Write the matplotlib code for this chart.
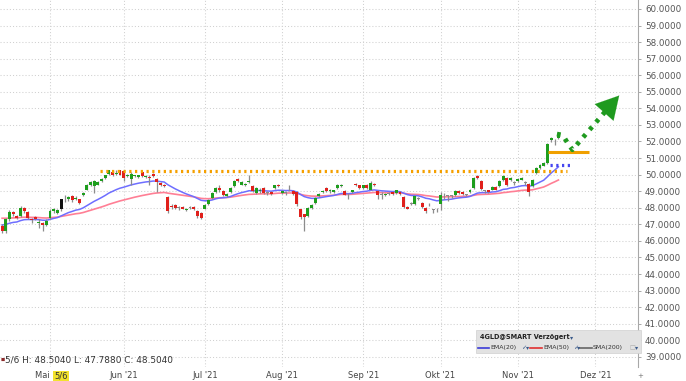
import matplotlib
matplotlib.use('Agg')
import matplotlib.pyplot as plt
import numpy as np
import pandas as pd
from matplotlib.patches import Rectangle
from matplotlib.lines import Line2D

# ---------------- data ----------------
opens = [46.9, 46.6, 47.3, 47.75, 47.5, 47.5, 48.0, 47.75, 47.35, 47.45,
         47.1, 47.1, 46.95, 47.4, 47.8, 47.7, 47.95, 48.5, 48.5, 48.7,
         48.55, 48.5, 48.75, 49.1, 49.35, 49.3, 49.4, 49.6, 49.8, 50.05,
         50.15, 50.05, 50.25, 50.2, 49.9, 49.75, 49.9, 49.85, 50.15, 49.85,
         49.85, 50.05, 49.75, 49.5, 49.4, 48.65, 48.1, 48.15, 48.0, 48.05,
         47.85, 48.0, 48.05, 47.8, 47.7, 47.95, 48.2, 48.6, 48.95, 49.2,
         49.0, 48.7, 48.95, 49.3, 49.75, 49.4, 49.4, 49.55, 49.3, 48.9,
         49.0, 49.2, 48.9, 48.95, 49.2, 49.4, 48.9, 48.9, 49.05, 49.0,
         48.95, 47.9, 47.6, 47.5, 48.0, 48.3, 48.7, 48.95, 49.2, 49.0,
         48.95, 49.2, 49.3, 49.0, 48.75, 48.95, 49.45, 49.35, 49.2, 49.4,
         49.1, 49.45, 49.0, 48.8, 48.75, 48.85, 48.95, 48.9, 48.95, 48.65,
         48.05, 48.25, 48.2, 48.55, 48.3, 48.0, 48.2, 47.85, 47.95, 48.2,
         48.75, 48.7, 48.7, 48.75, 49.0, 48.95, 48.8, 48.95, 49.2, 49.9,
         49.6, 49.0, 49.05, 49.1, 49.25, 49.3, 49.65, 49.8, 49.65, 49.5,
         49.6, 49.7, 49.5, 49.45, 49.3, 50.1, 50.4, 50.55, 50.7, 52.1,
         52.0, 52.2]
closes = [46.6, 47.3, 47.75, 47.6, 47.4, 48.0, 47.8, 47.4, 47.25, 47.35,
          47.15, 46.95, 47.2, 47.8, 47.95, 47.85, 48.504, 48.55, 48.65, 48.45,
          48.6, 48.3, 48.9, 49.4, 49.55, 49.6, 49.55, 49.75, 49.95, 50.25,
          49.95, 50.1, 50.0, 49.8, 49.95, 50.05, 49.95, 49.95, 49.9, 49.9,
          49.8, 49.9, 49.55, 49.35, 49.3, 47.8, 48.05, 48.0, 48.0, 47.95,
          47.95, 48.0, 47.9, 47.5, 47.4, 48.15, 48.45, 48.9, 49.2, 49.05,
          48.75, 48.85, 49.2, 49.6, 49.6, 49.55, 49.45, 49.6, 49.0, 49.2,
          49.05, 48.9, 48.9, 48.85, 49.35, 49.3, 49.0, 48.9, 49.1, 48.85,
          48.2, 47.45, 47.45, 48.0, 48.15, 48.6, 48.85, 49.0, 49.0, 49.1,
          49.05, 49.4, 49.4, 48.8, 48.8, 49.05, 49.35, 49.2, 49.35, 49.2,
          49.5, 49.35, 48.75, 48.8, 48.85, 48.85, 48.85, 49.05, 48.85, 48.05,
          47.95, 48.25, 48.7, 48.55, 48.05, 47.8, 48.2, 47.85, 47.9, 48.75,
          48.75, 48.7, 48.7, 49.0, 48.9, 48.85, 48.8, 49.1, 49.8, 49.8,
          49.15, 49.0, 48.95, 49.25, 49.1, 49.6, 49.9, 49.35, 49.8, 49.5,
          49.75, 49.8, 49.5, 48.95, 49.7, 50.4, 50.6, 50.7, 51.85, 52.2,
          52.0, 52.35]
highs = [47.0, 47.4, 47.85, 47.8, 47.55, 48.1, 48.05, 47.8, 47.4, 47.5,
         47.3, 47.15, 47.3, 47.9, 48.0, 47.95, 48.504, 48.8, 48.7, 48.75,
         48.7, 48.55, 48.95, 49.45, 49.6, 49.7, 49.6, 49.8, 50.0, 50.3,
         50.2, 50.25, 50.3, 50.25, 50.05, 50.15, 50.0, 50.0, 50.2, 49.95,
         49.95, 50.1, 49.8, 49.55, 49.45, 48.7, 48.2, 48.2, 48.1, 48.1,
         48.0, 48.1, 48.1, 47.85, 47.75, 48.2, 48.5, 48.95, 49.25, 49.4,
         49.05, 48.9, 49.25, 49.65, 49.8, 49.6, 49.5, 50.0, 49.35, 49.25,
         49.2, 49.25, 49.0, 49.0, 49.4, 49.45, 49.05, 49.0, 49.4, 49.05,
         49.0, 47.95, 47.65, 48.05, 48.2, 48.65, 48.9, 49.1, 49.25, 49.15,
         49.1, 49.45, 49.45, 49.05, 48.9, 49.1, 49.5, 49.4, 49.4, 49.45,
         49.6, 49.5, 49.05, 48.95, 48.9, 48.95, 49.0, 49.1, 49.0, 48.7,
         48.1, 48.35, 48.75, 48.65, 48.35, 48.05, 48.3, 47.95, 48.0, 48.95,
         48.9, 48.8, 48.8, 49.05, 49.05, 49.0, 48.85, 49.15, 49.85, 49.95,
         49.65, 49.1, 49.1, 49.3, 49.3, 49.65, 49.95, 49.85, 49.85, 49.6,
         49.8, 49.85, 49.6, 49.5, 49.75, 50.45, 50.65, 50.75, 51.9, 52.3,
         52.15, 52.45]
lows = [46.5, 46.5, 47.2, 47.5, 47.3, 47.45, 47.7, 47.3, 47.1, 47.25,
        46.8, 46.6, 46.9, 47.35, 47.7, 47.6, 47.788, 48.35, 48.4, 48.35,
        48.45, 48.2, 48.7, 49.05, 49.3, 48.9, 49.35, 49.55, 49.75, 50.0,
        49.9, 49.95, 49.95, 49.6, 49.85, 49.4, 49.85, 49.8, 49.85, 49.8,
        49.4, 49.85, 48.95, 49.3, 49.25, 47.7, 47.9, 47.95, 47.85, 47.9,
        47.8, 47.9, 47.85, 47.4, 47.3, 47.9, 48.15, 48.55, 48.9, 48.95,
        48.7, 48.65, 48.9, 49.25, 49.55, 49.35, 49.3, 49.5, 48.95, 48.85,
        48.9, 48.85, 48.8, 48.8, 49.15, 49.25, 48.85, 48.8, 49.0, 48.8,
        48.1, 47.35, 46.6, 47.45, 47.95, 48.25, 48.65, 48.9, 48.95, 48.9,
        48.9, 49.15, 49.25, 48.75, 48.55, 48.9, 49.3, 49.15, 49.15, 49.15,
        49.05, 49.3, 48.55, 48.5, 48.7, 48.75, 48.8, 48.85, 48.8, 48.0,
        47.9, 48.15, 48.15, 48.45, 48.0, 47.7, 48.1, 47.7, 47.75, 47.85,
        48.55, 48.4, 48.6, 48.7, 48.85, 48.8, 48.7, 48.9, 49.15, 49.75,
        49.1, 48.9, 48.9, 49.05, 49.05, 49.25, 49.6, 49.3, 49.6, 49.4,
        49.55, 49.65, 49.4, 48.7, 49.25, 50.05, 50.35, 50.5, 50.65, 51.95,
        51.8, 52.15]

month_pos = [13, 33, 55, 76, 98, 119, 140, 161]
month_labels = ["Mai '21", "Jun '21", "Jul '21", "Aug '21", "Sep '21", "Okt '21", "Nov '21", "Dez '21"]
y_ticks = list(range(39, 61))

ema20_seed = 47.0
ema50_seed = 47.4
hover_idx = 16
hover_text = "5/6 H: 48.5040 L: 47.7880 C: 48.5040"

resistance_level = 50.22
resistance_span = [26.6, 153.3]
ema20_ext_level = 50.6
ema20_ext_span = [148.7, 154.4]
target_level = 51.37
target_span = [148.3, 159.3]
forecast_x = [150.6, 151.8, 152.7, 153.5, 154.8, 165.8]
forecast_y = [52.45, 52.4, 52.2, 51.9, 51.5, 54.35]
arrow_tip = (168.0, 54.9)

# ---------------- figure ----------------
W, H = 686, 381
fig = plt.figure(figsize=(W / 100, H / 100), dpi=100)
fig.patch.set_facecolor('white')
ax = fig.add_axes([0, 14 / H, 638 / W, 1 - 14 / H])

n = len(closes)
idx = np.arange(n)
o = np.array(opens); c = np.array(closes); hi = np.array(highs); lo = np.array(lows)

GREEN = '#1e9e1e'
RED = '#e0201c'
colors = [GREEN if c[i] > o[i] else (RED if c[i] < o[i] else '#8a8a8a') for i in range(n)]
colors[hover_idx] = '#111111'

ax.vlines(idx, lo, hi, color='#8c8c8c', lw=0.9, zorder=3)
bottoms = np.minimum(o, c)
heights = np.maximum(np.abs(c - o), 0.05)
ax.bar(idx, heights, bottom=bottoms, width=0.8, color=colors, lw=0, zorder=4)

# moving averages
ema20 = pd.Series([ema20_seed] + closes).ewm(span=20, adjust=False).mean().iloc[1:].values
ema50 = pd.Series([ema50_seed] + closes).ewm(span=50, adjust=False).mean().iloc[1:].values
ax.plot(idx, ema50, color='#ff7f95', lw=1.2, zorder=2)
ax.plot(idx, ema20, color='#6e6eff', lw=1.1, zorder=2)

# drawings
ax.plot(resistance_span, [resistance_level] * 2, color='#f5a000', lw=2.3,
        linestyle=(0, (0.7, 1.1)), zorder=5)
ax.plot(ema20_ext_span, [ema20_ext_level] * 2, color='#4646f0', lw=2.3,
        linestyle=(0, (0.7, 1.1)), zorder=5)
ax.plot(target_span, [target_level] * 2, color='#f0a000', lw=2.2, zorder=5,
        solid_capstyle='butt')
ax.plot(forecast_x, forecast_y, color='#1f9a1f', lw=3.4,
        linestyle=(0, (0.8, 1.3)), zorder=5)
ax.annotate('', xy=arrow_tip, xytext=(forecast_x[-1], forecast_y[-1]),
            arrowprops=dict(arrowstyle='-|>,head_length=0.9,head_width=0.5',
                            color='#1f9a1f', lw=0.1, mutation_scale=18), zorder=6)

# axes styling
ax.set_xlim(-0.57, 172.6)
ax.set_ylim(38.39, 60.54)
ax.set_yticks(y_ticks)
ax.set_yticklabels([f"{v:.4f}" for v in y_ticks])
ax.yaxis.tick_right()
ax.tick_params(axis='y', length=2.5, width=0.6, color='#9a9a9a', pad=2.5,
               labelsize=6.3, labelcolor='#555555')
ax.set_xticks(month_pos)
ax.set_xticklabels(month_labels)
ax.tick_params(axis='x', length=0, pad=3, labelsize=6, labelcolor='#444444')
ax.grid(True, color='#d0d0d0', linestyle=(0, (1, 2)), lw=0.75)
ax.set_axisbelow(True)
for s in ['top', 'left', 'bottom']:
    ax.spines[s].set_visible(False)
ax.spines['right'].set_color('#a8a8a8')
ax.spines['right'].set_linewidth(0.8)

# hover date label on the axis
ax.annotate('5/6', xy=(hover_idx, 0), xycoords=('data', 'axes fraction'),
            xytext=(0, -3.2), textcoords='offset points', ha='center', va='top',
            fontsize=6, color='#333333',
            bbox=dict(boxstyle='square,pad=0.1', fc='#f2e22e', ec='none'))

def px(x, y):
    return x / W, 1 - y / H

fig.text(*px(1, 360), '■', fontsize=3.2, color='#8b2a2a', va='center', ha='left')
fig.text(*px(5, 360), hover_text, fontsize=6.4, color='#333333', va='center', ha='left')
fig.text(*px(637, 376), '+', fontsize=5, color='#777777', va='center', ha='left')

# legend box
fig.patches.append(Rectangle(px(476, 353), 165 / W, 23 / H, transform=fig.transFigure,
                             fc='#e2e2e2', ec='#d0d0d0', lw=0.5, zorder=10))
fig.text(*px(480, 337.5), '4GLD@SMART Verzögert', fontsize=4.7, fontweight='bold',
         color='#222222', va='center', ha='left', zorder=11)
fig.text(*px(570, 337.5), '▾', fontsize=4.5, color='#3a5a8a', va='center', ha='left', zorder=11)
row_y = 347.5
for x0, x1, col in [(478, 489, '#3c3cd8'), (530, 542, '#e03030'), (579, 592, '#666666')]:
    fig.add_artist(Line2D([x0 / W, x1 / W], [1 - row_y / H] * 2, color=col, lw=1.2,
                          transform=fig.transFigure, zorder=11))
for x, t in [(490, 'EMA(20)'), (543, 'EMA(50)'), (593, 'SMA(200)')]:
    fig.text(*px(x, row_y), t, fontsize=4.5, color='#333333', va='center', ha='left', zorder=11)
for x, t, col in [(521, '✓', '#3a5a8a'), (526, '▾', '#3a5a8a'), (573, '✓', '#3a5a8a'),
                  (577, '▾', '#3a5a8a'), (629, '□', '#aaaaaa'), (635, '▾', '#3a5a8a')]:
    fig.text(*px(x, row_y), t, fontsize=4.5, color=col, va='center', ha='left', zorder=11)

fig.savefig('out.png', dpi=100, facecolor='white')
